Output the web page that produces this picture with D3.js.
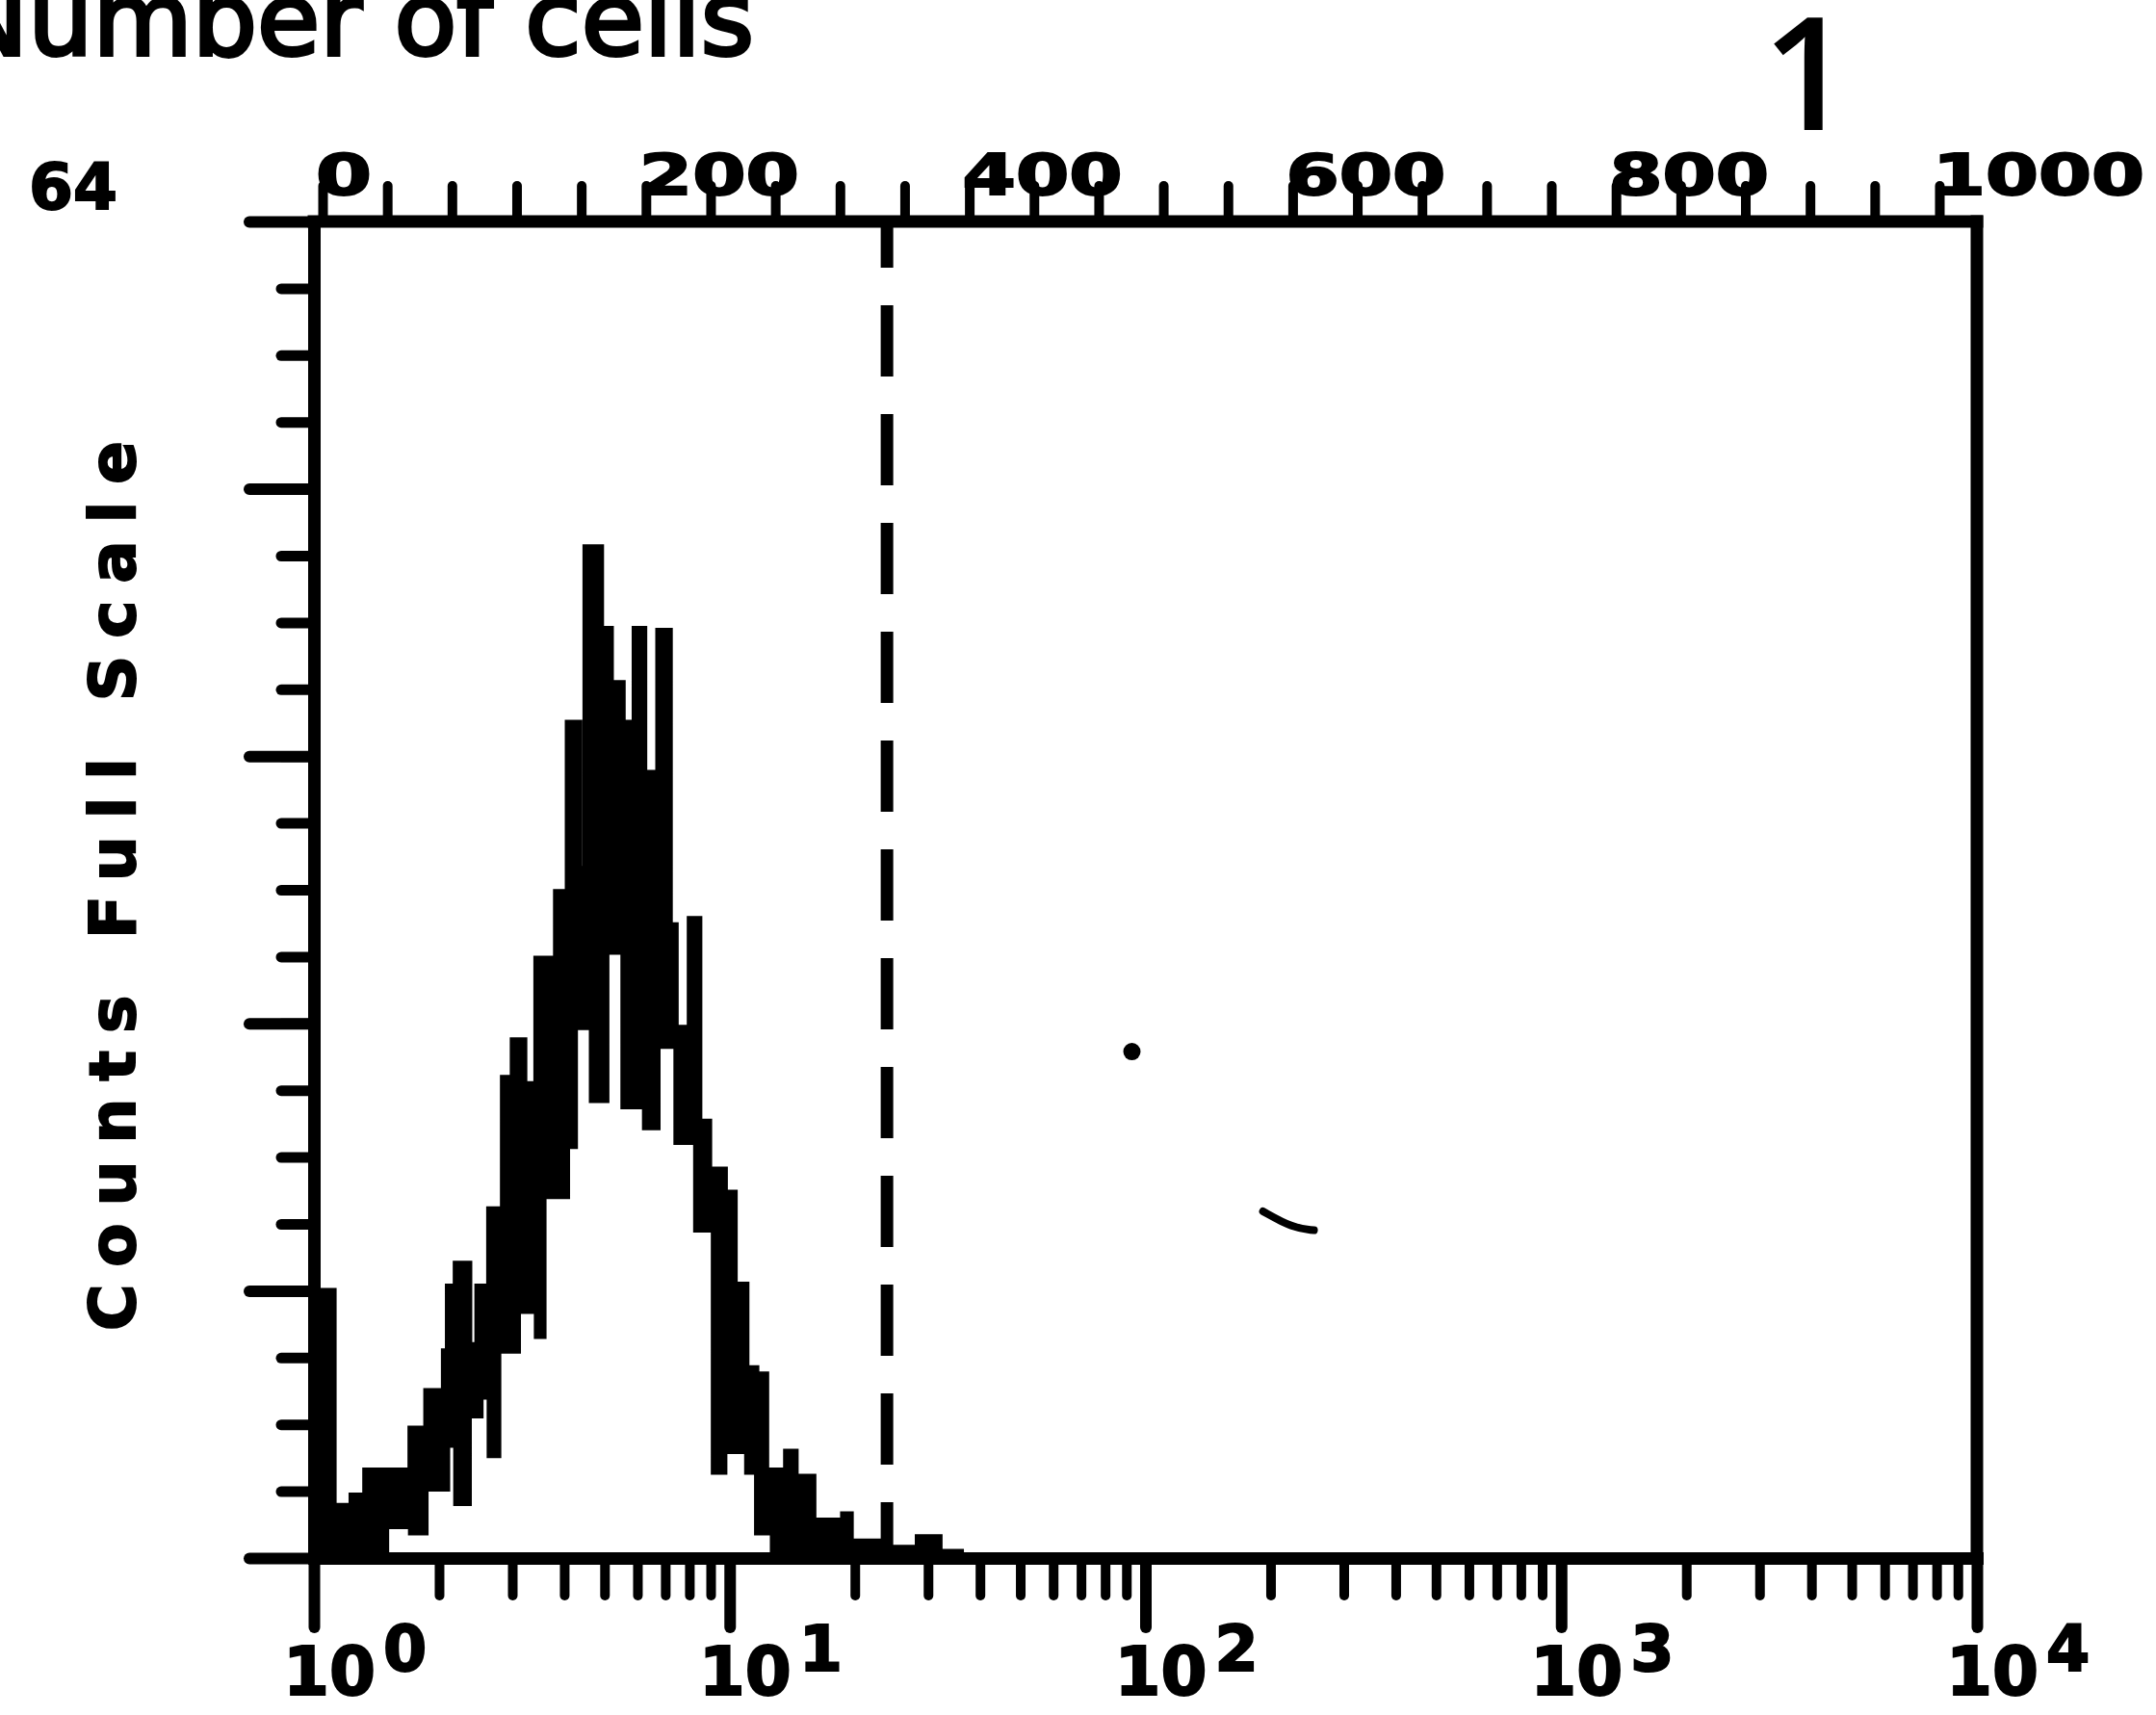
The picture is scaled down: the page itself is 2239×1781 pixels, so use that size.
<!DOCTYPE html>
<html>
<head>
<meta charset="utf-8">
<script src="https://cdn.jsdelivr.net/npm/d3@7"></script>
<style>
	body { margin: 0; background: #fff; }
	#container { width: 2239px; height: 1781px; position: relative; }
</style>
</head>
<body>
<div id="container"></div>
<script>

// histogram bin edges (fluorescence, log axis) and counts
var binEdges = [1.012, 1.116, 1.231, 1.328, 1.497, 1.706, 1.862, 2.053, 2.099, 2.192, 2.366, 2.471, 2.525, 2.638, 2.786, 2.847, 3.006, 3.106, 3.209, 3.426, 3.579, 3.820, 4.077, 4.259, 4.352, 4.497, 4.646, 4.908, 5.070, 5.182, 5.533, 5.905, 6.235, 6.730, 7.183, 7.421, 8.012, 8.278, 8.460, 8.933, 9.129, 9.744, 10.29, 10.98, 11.60, 12.25, 12.66, 13.66, 14.42, 15.91, 18.73, 19.57, 22.79, 28.33, 32.0, 36.6];
// top of the black band (overlaid traces)
var countsUpper = [12.8, 2.5, 3.0, 4.2, 4.2, 6.2, 8.0, 9.9, 13.0, 14.1, 10.2, 13.0, 13.0, 16.7, 16.7, 23.0, 24.8, 24.8, 22.7, 28.7, 28.7, 31.9, 40.0, 40.0, 33.0, 48.4, 48.4, 44.5, 44.5, 41.9, 40.0, 44.5, 37.6, 44.4, 30.3, 25.4, 30.6, 30.6, 20.9, 18.6, 18.6, 17.5, 13.1, 9.1, 8.8, 4.2, 4.2, 5.1, 3.9, 1.8, 2.1, 0.8, 0.5, 1.0, 0.3];
// bottom of the black band
var countsLower = [0, 0, 0, 0, 1.5, 1.2, 3.3, 3.3, 5.4, 2.6, 6.8, 6.8, 7.7, 4.9, 9.9, 9.9, 9.9, 11.8, 11.8, 10.6, 17.3, 17.3, 19.7, 25.4, 25.4, 25.4, 21.9, 21.9, 29.0, 29.0, 21.6, 21.6, 20.6, 24.5, 24.5, 19.9, 19.9, 15.7, 15.7, 15.7, 4.1, 5.1, 5.1, 4.1, 1.2, 1.2, 0, 0, 0, 0, 0, 0, 0, 0, 0];

var countMinorTicks = [0, 3.2, 6.4, 9.6, 12.8, 16, 19.2, 22.4, 25.6, 28.8, 32, 35.2, 38.4, 41.6, 44.8, 48, 51.2, 54.4, 57.6, 60.8, 64];
var countMajorTicks = [0, 12.8, 25.6, 38.4, 51.2, 64];
var decadeTicks = [1, 10, 100, 1000, 10000];
var decadeExponents = ['0', '1', '2', '3', '4'];
var channelTicks = [0, 40, 80, 120, 160, 200, 240, 280, 320, 360, 400, 440, 480, 520, 560, 600, 640, 680, 720, 760, 800, 840, 880, 920, 960, 1000];
var channelLabels = ['0', '200', '400', '600', '800', '1000'];
var channelLabelValues = [0, 200, 400, 600, 800, 1000];
var fullScaleLabel = '64';
var gateValue = 23.9;
var strayDot = [92.8, 24.25];
var strayCurve = [[191.8, 16.6], [226.3, 15.8], [254.4, 15.7]];

var width = 2239;
var height = 1781;

var svg = d3.select('#container')
	.append('svg')
	.attr('width', width)
	.attr('height', height)
	.style('background', '#fff');

var x = d3.scaleLog()
	.domain([1, 10000])
	.range([326, 2053]);

var y = d3.scaleLinear()
	.domain([0, 64])
	.range([1618, 230]);

var xChannel = d3.scaleLinear()
	.domain([0, 1000])
	.range([335, 2014]);

// histogram band
var bins = binEdges.map(function(e, i){
	var k = Math.min(i, countsUpper.length - 1);
	return {'x': e, 'hi': countsUpper[k], 'lo': countsLower[k]};
});

var area = d3.area()
	.curve(d3.curveStepAfter)
	.x(function(d){return x(d.x);})
	.y0(function(d){return y(d.lo);})
	.y1(function(d){return y(d.hi);});

var upperLine = d3.line()
	.curve(d3.curveStepAfter)
	.x(function(d){return x(d.x);})
	.y(function(d){return y(d.hi);});

var lowerLine = d3.line()
	.curve(d3.curveStepAfter)
	.x(function(d){return x(d.x);})
	.y(function(d){return y(d.lo);});

svg.append('path')
	.datum(bins)
	.attr('d', area)
	.style('fill', '#000');

svg.append('path')
	.datum(bins)
	.attr('d', upperLine)
	.style('fill', 'none')
	.style('stroke', '#000')
	.style('stroke-width', 6);

svg.append('path')
	.datum(bins)
	.attr('d', lowerLine)
	.style('fill', 'none')
	.style('stroke', '#000')
	.style('stroke-width', 5);

// gate
svg.append('line')
	.attr('x1', x(gateValue))
	.attr('x2', x(gateValue))
	.attr('y1', y(64))
	.attr('y2', y(0))
	.style('stroke', '#000')
	.style('stroke-width', 13)
	.style('stroke-dasharray', '74,39')
	.style('stroke-dashoffset', 26);

// stray marks from the scan
svg.append('circle')
	.attr('cx', x(strayDot[0]))
	.attr('cy', y(strayDot[1]))
	.attr('r', 9)
	.style('fill', '#000');

svg.append('path')
	.datum(strayCurve)
	.attr('d', d3.line().curve(d3.curveBasis)
		.x(function(d){return x(d[0]);})
		.y(function(d){return y(d[1]);}))
	.style('fill', 'none')
	.style('stroke', '#000')
	.style('stroke-width', 8)
	.style('stroke-linecap', 'round');

// axes
function styleAxis(g, w){
	g.select('.domain')
		.style('stroke', '#000')
		.style('stroke-width', 13)
		.style('stroke-linecap', 'square');
	g.selectAll('.tick line')
		.style('stroke', '#000')
		.style('stroke-width', w)
		.style('stroke-linecap', 'round');
}

var leftMinor = svg.append('g')
	.attr('transform', 'translate(' + x(1) + ',0)')
	.call(d3.axisLeft(y).tickValues(countMinorTicks).tickSize(34).tickSizeOuter(0).tickFormat(''));
styleAxis(leftMinor, 11);

var leftMajor = svg.append('g')
	.attr('transform', 'translate(' + x(1) + ',0)')
	.call(d3.axisLeft(y).tickValues(countMajorTicks).tickSize(67).tickSizeOuter(0).tickFormat(''));
leftMajor.select('.domain').remove();
styleAxis(leftMajor, 12);

var minorDecades = x.ticks().filter(function(v){
	return decadeTicks.indexOf(v) < 0;
});

var bottomMinor = svg.append('g')
	.attr('transform', 'translate(0,' + y(0) + ')')
	.call(d3.axisBottom(x).tickValues(minorDecades).tickSize(39).tickSizeOuter(0).tickFormat(''));
styleAxis(bottomMinor, 10);

var bottomMajor = svg.append('g')
	.attr('transform', 'translate(0,' + y(0) + ')')
	.call(d3.axisBottom(x).tickValues(decadeTicks).tickSize(72).tickSizeOuter(0).tickFormat(''));
bottomMajor.select('.domain').remove();
styleAxis(bottomMajor, 12);

var topAxis = svg.append('g')
	.attr('transform', 'translate(0,' + y(64) + ')')
	.call(d3.axisTop(xChannel).tickValues(channelTicks).tickSize(37).tickSizeOuter(0).tickFormat(''));
topAxis.select('.domain').remove();
styleAxis(topAxis, 10);

// frame: top and right edges
svg.append('line')
	.attr('x1', x(1))
	.attr('x2', x(10000))
	.attr('y1', y(64))
	.attr('y2', y(64))
	.style('stroke', '#000')
	.style('stroke-width', 13)
	.style('stroke-linecap', 'square');

svg.append('line')
	.attr('x1', x(10000))
	.attr('x2', x(10000))
	.attr('y1', y(64))
	.attr('y2', y(0))
	.style('stroke', '#000')
	.style('stroke-width', 13)
	.style('stroke-linecap', 'square');

// top channel labels
svg.selectAll('.channel-labels')
	.data(channelLabelValues)
	.enter()
	.append('text')
	.attr('class', 'channel-labels')
	.attr('x', function(d){return xChannel(d) - 7;})
	.attr('y', 202)
	.attr('textLength', function(d, i){return channelLabels[i].length * 54 + 4;})
	.attr('lengthAdjust', 'spacingAndGlyphs')
	.style('font-family', 'DejaVu Sans')
	.style('font-weight', 'bold')
	.style('font-size', '58px')
	.style('stroke', '#000')
	.style('stroke-width', 2)
	.text(function(d, i){return channelLabels[i];});

// bottom decade labels
var decadeLabels = svg.selectAll('.decade-labels')
	.data(decadeTicks)
	.enter()
	.append('text')
	.attr('class', 'decade-labels')
	.attr('x', function(d){return x(d) - 32;})
	.attr('y', 1760)
	.style('font-family', 'DejaVu Sans')
	.style('font-weight', 'bold')
	.style('font-size', '69px')
	.style('stroke', '#000')
	.style('stroke-width', 2);

decadeLabels.append('tspan')
	.text('10');

decadeLabels.append('tspan')
	.attr('dx', 8)
	.attr('dy', -25)
	.style('font-size', '65px')
	.text(function(d, i){return decadeExponents[i];});

svg.append('text')
	.attr('x', 30)
	.attr('y', 217)
	.style('font-family', 'DejaVu Sans')
	.style('font-weight', 'bold')
	.style('font-size', '66px')
	.style('stroke', '#000')
	.style('stroke-width', 2)
	.text(fullScaleLabel);

svg.append('text')
	.attr('transform', 'translate(140,920) rotate(-90)')
	.attr('text-anchor', 'middle')
	.attr('textLength', 924)
	.attr('lengthAdjust', 'spacing')
	.style('font-family', 'DejaVu Sans')
	.style('font-weight', 'bold')
	.style('font-size', '66px')
	.style('stroke', '#000')
	.style('stroke-width', 2)
	.text('Counts Full Scale');

svg.append('text')
	.attr('x', -50)
	.attr('y', 57)
	.style('font-family', 'DejaVu Sans')
	.style('font-size', '106px')
	.style('stroke', '#000')
	.style('stroke-width', 4)
	.text('Number of cells');

svg.append('text')
	.attr('x', 1877)
	.attr('y', 135)
	.attr('text-anchor', 'middle')
	.style('font-family', 'Open Sans')
	.style('font-weight', 600)
	.style('font-size', '164px')
	.text('1');

</script>
</body>
</html>
